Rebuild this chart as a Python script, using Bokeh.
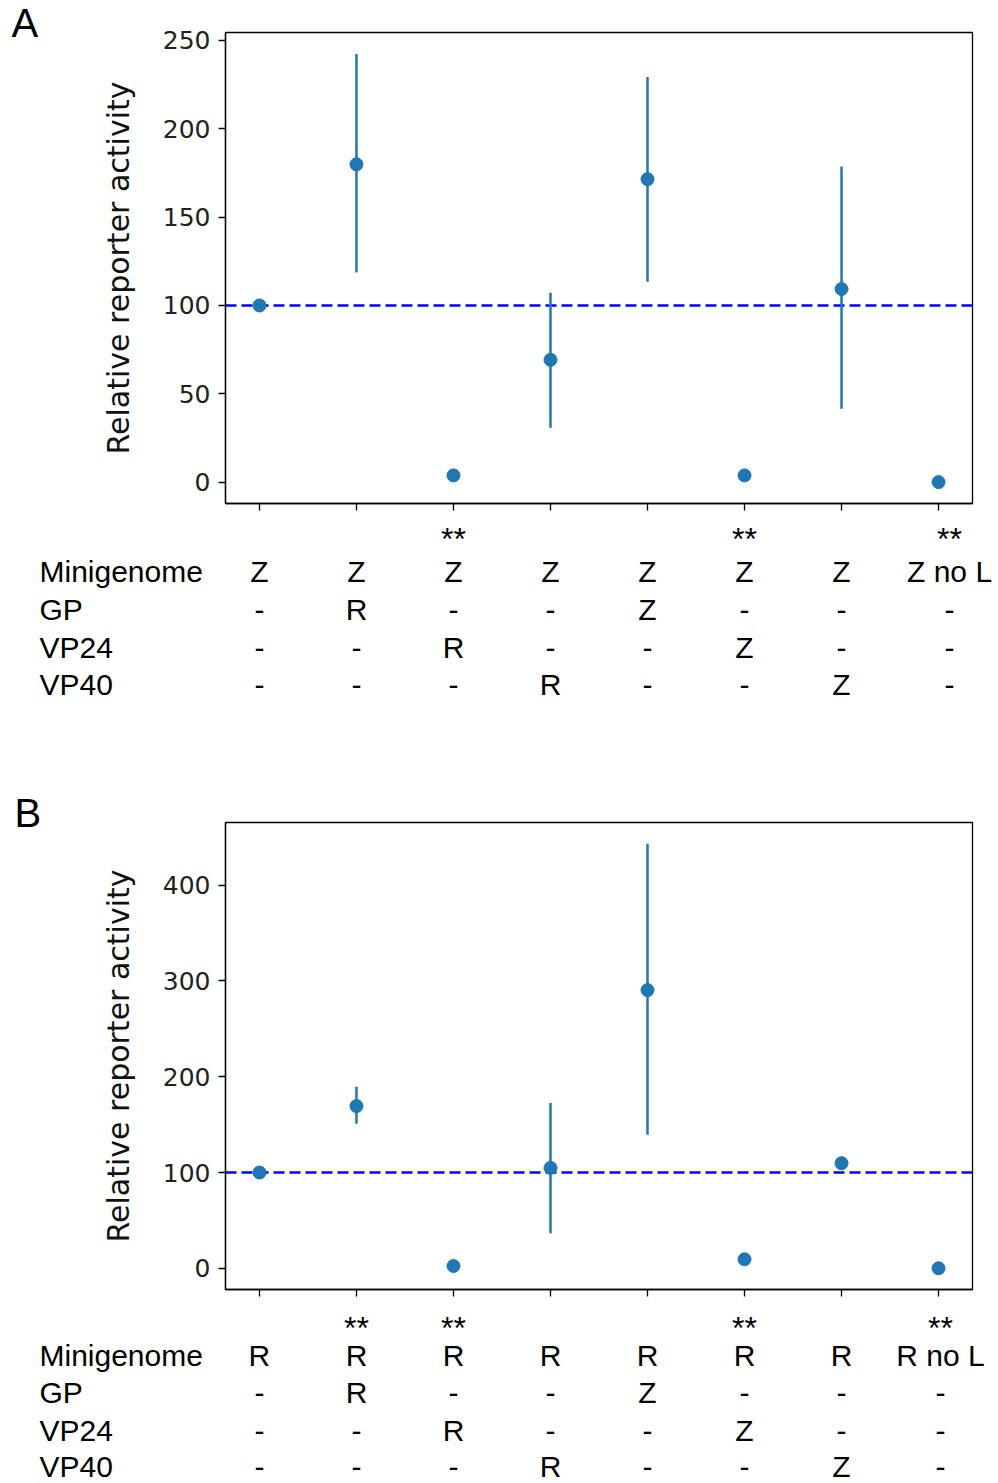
from bokeh.plotting import figure
from bokeh.layouts import column
from bokeh.models import Range1d, Span, FixedTicker, ColumnDataSource
from bokeh.core.properties import value
from bokeh.embed import file_html
from bokeh.resources import INLINE

# ---------------- data ----------------
positions = [0, 1, 2, 3, 4, 5, 6, 7]
row_names = ["Minigenome", "GP", "VP24", "VP40"]
ref_level = 100

# Panel A: Z minigenome
a_mean = [100, 179.9, 3.8, 69.2, 171.5, 3.8, 109.3, 0]
a_low = [100, 118.7, 3.8, 30.7, 113.4, 3.8, 41.5, 0]
a_high = [100, 242.4, 3.8, 107.2, 229.3, 3.8, 178.6, 0]
a_yticks = [0, 50, 100, 150, 200, 250]
a_minigenome = ["Z", "Z", "Z", "Z", "Z", "Z", "Z", "Z no L"]
a_gp = ["-", "R", "-", "-", "Z", "-", "-", "-"]
a_vp24 = ["-", "-", "R", "-", "-", "Z", "-", "-"]
a_vp40 = ["-", "-", "-", "R", "-", "-", "Z", "-"]
a_signif = ["", "", "**", "", "", "**", "", "**"]

# Panel B: R minigenome
b_mean = [100, 169.4, 2.4, 104.8, 290.5, 9.4, 109.7, 0]
b_low = [100, 151.0, 2.4, 36.5, 139.5, 9.4, 104.0, 0]
b_high = [100, 189.6, 2.4, 172.6, 443.3, 9.4, 116.0, 0]
b_yticks = [0, 100, 200, 300, 400]
b_minigenome = ["R", "R", "R", "R", "R", "R", "R", "R no L"]
b_gp = ["-", "R", "-", "-", "Z", "-", "-", "-"]
b_vp24 = ["-", "-", "R", "-", "-", "Z", "-", "-"]
b_vp40 = ["-", "-", "-", "R", "-", "-", "Z", "-"]
b_signif = ["", "**", "**", "", "", "**", "", "**"]

# ---------------- layout constants ----------------
W = 998
LEFT, RIGHT, TOP = 225, 26, 32
X_LO, X_HI = -0.35, 7.35
POINT_COLOR = "#1f77b4"
TICK_FONT = "DejaVu Sans"
TABLE_FONT = "Liberation Sans"


def panel(mean, low, high, yticks, letter, rows, signif, frame_h, bottom_h,
          star_off, row_offs, last_shift, letter_dx, letter_dy):
    lo = min(min(low), min(mean))
    hi = max(max(high), max(mean))
    pad = 0.05 * (hi - lo)
    y0, y1 = lo - pad, hi + pad
    p = figure(width=W, height=TOP + frame_h + bottom_h,
               x_range=Range1d(X_LO, X_HI), y_range=Range1d(y0, y1),
               output_backend="svg", toolbar_location=None,
               min_border_left=LEFT, min_border_right=RIGHT,
               min_border_top=TOP, min_border_bottom=bottom_h)
    p.xgrid.visible = False
    p.ygrid.visible = False
    p.outline_line_color = "black"
    p.outline_line_width = 1.3

    # x axis: tick marks only, no labels
    p.xaxis.ticker = FixedTicker(ticks=[], minor_ticks=positions)
    p.xaxis.minor_tick_in = 0
    p.xaxis.minor_tick_out = 7
    p.xaxis.minor_tick_line_width = 1.3
    p.xaxis.minor_tick_line_color = "black"
    p.xaxis.axis_line_width = 1.3
    p.xaxis.axis_line_color = "black"

    # y axis
    p.yaxis.ticker = FixedTicker(ticks=yticks)
    p.yaxis.major_tick_in = 0
    p.yaxis.major_tick_out = 7
    p.yaxis.minor_tick_line_color = None
    p.yaxis.major_tick_line_width = 1.3
    p.yaxis.axis_line_width = 1.3
    p.yaxis.axis_line_color = "black"
    p.yaxis.major_label_text_font = TICK_FONT
    p.yaxis.major_label_text_font_size = "25px"
    p.yaxis.major_label_text_color = "#222222"
    p.yaxis.major_label_standoff = 8
    p.yaxis.axis_label = "Relative reporter activity"
    p.yaxis.axis_label_text_font = TICK_FONT
    p.yaxis.axis_label_text_font_size = "30px"
    p.yaxis.axis_label_text_font_style = "normal"
    p.yaxis.axis_label_text_color = "#111111"
    p.yaxis.axis_label_standoff = 24

    # reference level
    p.add_layout(Span(location=ref_level, dimension="width", line_color="#0000ff",
                      line_dash="11 5", line_width=2.5, level="underlay"))

    src = ColumnDataSource(dict(x=positions, y=mean, lo=low, hi=high))
    p.segment(x0="x", y0="lo", x1="x", y1="hi", source=src,
              line_color=POINT_COLOR, line_width=2.5)
    p.scatter(x="x", y="y", source=src, size=13,
              fill_color=POINT_COLOR, line_color=POINT_COLOR)

    # panel letter, above the frame's top-left corner
    p.text(x=[X_LO], y=[y1], text=[letter], x_offset=letter_dx, y_offset=letter_dy,
           text_font=value(TABLE_FONT), text_font_size="40px", text_color="black",
           text_align="left", text_baseline="middle", level="overlay")

    # condition table below the axis
    xs, ys, txt, dx, dy = [], [], [], [], []
    for r, cells in enumerate(rows):
        for i, c in enumerate(cells):
            xs.append(positions[i])
            ys.append(y0)
            txt.append(c)
            dx.append(last_shift if i == len(cells) - 1 else 0)
            dy.append(row_offs[r])
    p.text(x="x", y="y", text="t", x_offset="dx", y_offset="dy",
           source=ColumnDataSource(dict(x=xs, y=ys, t=txt, dx=dx, dy=dy)),
           text_font=value(TABLE_FONT), text_font_size="30px", text_color="black",
           text_align="center", text_baseline="middle", level="overlay")

    keep = [i for i, s in enumerate(signif) if s]
    p.text(x="x", y="y", text="t", x_offset="dx", y_offset=star_off,
           source=ColumnDataSource(dict(
               x=[positions[i] for i in keep], y=[y0] * len(keep),
               t=[signif[i] for i in keep],
               dx=[last_shift if i == len(signif) - 1 else 0 for i in keep])),
           text_font=value(TABLE_FONT), text_font_size="32px", text_color="black",
           text_align="center", text_baseline="middle", level="overlay")

    p.text(x=[X_LO] * len(row_names), y=[y0] * len(row_names), text=row_names,
           x_offset=39 - LEFT, y_offset=row_offs,
           text_font=value(TABLE_FONT), text_font_size="30px", text_color="black",
           text_align="left", text_baseline="middle", level="overlay")
    return p


fig_a = panel(a_mean, a_low, a_high, a_yticks, "A",
              [a_minigenome, a_gp, a_vp24, a_vp40], a_signif,
              471, 287, 35, [68, 106, 144, 181], 11, 11 - LEFT, -10)
fig_b = panel(b_mean, b_low, b_high, b_yticks, "B",
              [b_minigenome, b_gp, b_vp24, b_vp40], b_signif,
              467, 194, 38, [66, 103, 141, 177], 2, 14 - LEFT, -10)

layout = column(fig_a, fig_b, spacing=0)
open("out.html", "w").write(file_html(layout, INLINE))
